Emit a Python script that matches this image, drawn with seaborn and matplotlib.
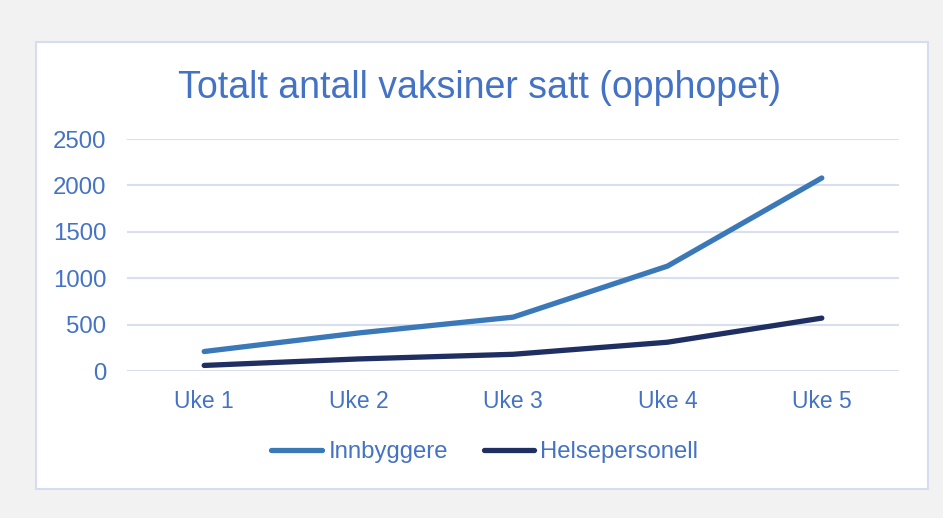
import pandas as pd
import matplotlib.pyplot as plt
from matplotlib.patches import Rectangle
import seaborn as sns

# --- Data ---
weeks = ["Uke 1", "Uke 2", "Uke 3", "Uke 4", "Uke 5"]
innbyggere = [210, 410, 580, 1130, 2080]
helsepersonell = [60, 130, 180, 310, 570]
series_names = ["Innbyggere", "Helsepersonell"]

df = pd.DataFrame({
    "Uke": weeks * 2,
    "Antall": innbyggere + helsepersonell,
    "Gruppe": [series_names[0]] * len(weeks) + [series_names[1]] * len(weeks),
})

sns.set_style("white")
plt.rcParams["font.family"] = ["Liberation Sans", "DejaVu Sans"]

blue_text = "#4472C4"
palette = {"Innbyggere": "#3A78B8", "Helsepersonell": "#1F2F62"}

fig = plt.figure(figsize=(9.43, 5.18), dpi=100, facecolor="#F2F2F2")
# white chart area with thin border
fig.patches.append(Rectangle((36 / 943, 1 - 489 / 518), 892 / 943, 447 / 518,
                             transform=fig.transFigure, facecolor="white",
                             edgecolor="#D6DDF0", linewidth=1.5, zorder=-5))

ax = fig.add_axes([127 / 943, 1 - 371 / 518, 772 / 943, 232 / 518])
ax.set_facecolor("none")
ax.set_zorder(2)

sns.lineplot(data=df, x="Uke", y="Antall", hue="Gruppe", palette=palette,
             linewidth=3.8, sort=False, ax=ax, legend=True)
for line in ax.lines:
    line.set_solid_capstyle("round")

ax.set_xlim(-0.5, len(weeks) - 0.5)
ax.set_ylim(0, 2500)
ax.set_yticks(range(0, 2501, 500))
ax.yaxis.grid(True, color="#D9DFF0", linewidth=1.5)
ax.set_axisbelow(True)
sns.despine(ax=ax, left=True, bottom=True)
ax.tick_params(axis="x", length=0, labelsize=16.5, labelcolor=blue_text, pad=14)
ax.tick_params(axis="y", length=0, labelsize=17.3, labelcolor=blue_text, pad=15)
ax.set_xlabel("")
ax.set_ylabel("")

leg = ax.legend(loc="center", bbox_to_anchor=(0.4637, -0.349), ncol=2, frameon=False,
                fontsize=17.2, handlelength=2.1, handletextpad=0.28, columnspacing=1.5)
for t in leg.get_texts():
    t.set_color(blue_text)
for h in leg.get_lines():
    h.set_linewidth(3.8)
    h.set_solid_capstyle("round")

fig.text(480 / 943, 1 - 88 / 518, "Totalt antall vaksiner satt (opphopet)",
         ha="center", va="center", fontsize=27, color=blue_text)

fig.savefig("out.png", dpi=100, facecolor=fig.get_facecolor())
